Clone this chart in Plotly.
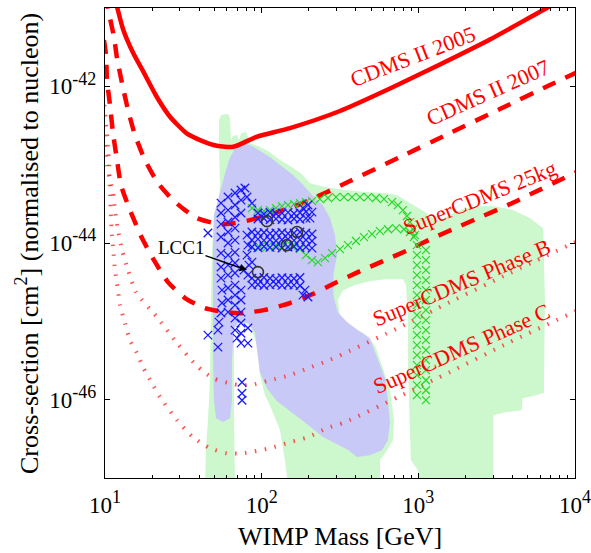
import math
import plotly.graph_objects as go

# ---------------- data (WIMP mass in GeV, cross-section in cm^2) ----------------
cdms2005_mass = [11.5, 13.09, 15.16, 17.56, 21.38, 25.98, 33.22, 40.39, 51.63, 65.9, 92.9,
                 151.6, 316, 659, 1373, 2863, 6618, 9280]
cdms2005_xsec = [1.4e-41, 5.24e-42, 2.64e-42, 1.54e-42, 7.36e-43, 4.09e-43, 2.51e-43, 2.06e-43,
                 1.74e-43, 1.69e-43, 2.27e-43, 2.93e-43, 4.84e-43, 9.37e-43, 1.90e-42, 3.96e-42,
                 1.0e-41, 1.4e-41]

cdms2007_mass = [10.30, 10.45, 11.41, 11.93, 12.84, 14.03, 15.54, 18.00, 21.79, 27.17, 32.40,
                 38.65, 46.79, 55.82, 67.53, 84.19, 121.6, 175.6, 253.5, 366.1, 763.2, 1591,
                 3317, 6917, 10750]
cdms2007_xsec = [1.47e-41, 1.0e-41, 4.26e-42, 2.30e-42, 1.10e-42, 4.98e-43, 2.39e-43, 1.145e-43,
                 5.82e-44, 3.53e-44, 2.63e-44, 2.08e-44, 1.85e-44, 1.74e-44, 1.80e-44, 1.96e-44,
                 2.41e-44, 3.14e-44, 4.34e-44, 6.17e-44, 1.25e-43, 2.53e-43, 5.13e-43, 1.04e-42,
                 1.57e-42]

scdms25_mass = [9.85, 10.15, 10.30, 10.76, 11.25, 11.93, 12.65, 14.44, 17.22, 20.54, 25.23,
                32.40, 43.47, 58.33, 72.68, 103.4, 151.6, 212.5, 285.1, 411.7, 594.4, 858.3,
                1239, 1789, 2584, 3731, 5387, 7779, 11230]
scdms25_xsec = [3.9e-42, 2.51e-42, 1.20e-42, 5.77e-43, 2.53e-43, 1.145e-43, 5.49e-44, 2.63e-44,
                1.155e-44, 6.05e-45, 3.17e-45, 1.98e-45, 1.47e-45, 1.31e-45, 1.27e-45, 1.39e-45,
                1.71e-45, 2.23e-45, 2.99e-45, 4.25e-45, 5.87e-45, 8.12e-45, 1.155e-44, 1.60e-44,
                2.21e-44, 3.05e-44, 4.34e-44, 6.17e-44, 8.79e-44]

phaseB_mass = [9.93, 10.30, 10.76, 11.25, 11.58, 12.10, 12.84, 14.03, 15.77, 21.48, 28.81, 38.65,
               48.90, 65.59, 84.19, 113.0, 151.6, 197.5, 261.1, 340.1, 763.2, 1591, 3842, 10750]
phaseB_xsec = [1.78e-43, 9.88e-44, 6.36e-44, 4.47e-44, 2.63e-44, 1.46e-44, 8.12e-45, 4.51e-45,
               2.36e-45, 1.13e-45, 5.27e-46, 2.68e-46, 1.88e-46, 1.58e-46, 1.53e-46, 1.77e-46,
               2.06e-46, 2.53e-46, 3.10e-46, 3.93e-46, 8.43e-46, 1.76e-45, 4.13e-45, 1.09e-44]

phaseC_mass = [9.9, 10.25, 10.50, 10.65, 10.76, 10.87, 11.03, 11.29, 11.58, 12.10, 12.47, 13.42,
               14.44, 16.00, 17.48, 19.95, 22.44, 28.81, 36.44, 46.79, 60.06, 75.98, 113.0, 151.6,
               197.5, 261.1, 340.1, 763.2, 1591, 3842, 10750]
phaseC_xsec = [5.8e-43, 2.61e-43, 1.45e-43, 8.04e-44, 4.74e-44, 2.63e-44, 1.46e-44, 8.12e-45,
               4.51e-45, 2.50e-45, 1.61e-45, 9.48e-46, 5.75e-46, 3.93e-46, 2.60e-46, 1.62e-46,
               1.08e-46, 5.47e-47, 3.32e-47, 2.40e-47, 2.07e-47, 2.07e-47, 2.40e-47, 2.87e-47,
               3.32e-47, 4.33e-47, 5.16e-47, 1.11e-46, 2.25e-46, 5.43e-46, 1.43e-45]

# light green allowed region outline (mass, xsec)
green_region = [
    (43.5, 8e-48), (44.1, 2.26e-47), (45.4, 5.47e-47), (46.8, 1.77e-46), (47.5, 1.87e-45),
    (48.2, 8.12e-45), (49.6, 2.27e-44), (53.4, 3.53e-44), (54.2, 5.49e-44), (53.4, 1.54e-43),
    (53.4, 3.71e-43), (55.0, 4.30e-43), (61.0, 4.43e-43), (62.8, 3.9e-43), (63.7, 2.06e-43),
    (65.6, 2.33e-43), (69.6, 2.39e-43), (71.6, 2.06e-43), (73.8, 2.5e-43), (79.4, 2.64e-43),
    (81.7, 2.27e-43), (84.2, 1.88e-43), (94.7, 1.73e-43), (109.7, 1.49e-43), (130.9, 1.145e-43),
    (156, 9.3e-44), (180, 7.6e-44), (203, 5.8e-44), (253, 5.2e-44), (340, 4.74e-44),
    (456, 4.47e-44), (612, 4.34e-44), (727, 4.09e-44), (906, 3.16e-44), (1102, 2.48e-44),
    (1310, 1.91e-44), (1591, 2.27e-44), (1903, 2.7e-44), (2338, 2.95e-44), (3091, 2.95e-44),
    (4009, 2.63e-44), (5155, 2.08e-44), (6265, 1.54e-44), (6427, 1.87e-45), (6334, 1.22e-46),
    (5390, 1.11e-46), (4637, 1.04e-46), (4570, 7.34e-47), (3562, 6.9e-47), (3015, 6.34e-47),
    (3015, 8e-48), (1024, 8e-48), (994, 1.26e-47), (897, 1.69e-47), (884, 4.08e-47),
    (871, 9.85e-47), (858, 3.19e-46), (858, 1.036e-45), (834, 2.90e-45), (799, 3.45e-45),
    (612, 3.45e-45), (491, 3.26e-45), (394, 2.90e-45), (331, 2.50e-45), (306, 1.87e-45),
    (316, 1.20e-45), (366, 8.94e-46), (456, 6.86e-46), (528, 4.97e-46), (595, 2.53e-46),
    (659, 1.32e-46), (699, 5.47e-47), (689, 3.04e-47), (621, 2.15e-47), (569, 1.69e-47),
    (569, 8e-48), (147.6, 8e-48), (140.8, 1.69e-47), (130.9, 4.08e-47), (116.4, 7.34e-47),
    (105, 1.14e-46), (97.5, 2.06e-46), (93.4, 4.97e-46), (84.2, 8.94e-46), (72.7, 9.85e-46),
    (66.6, 8.2e-46), (66.6, 5.47e-47), (67.6, 8e-48),
]

# lavender allowed region outline (mass, xsec)
blue_region = [
    (67.5, 1.63e-43), (78.2, 1.88e-43), (86.7, 1.73e-43), (97.5, 1.49e-43), (113, 1.25e-43),
    (130.9, 9.88e-44), (156, 7.6e-44), (184, 5.49e-44), (213, 3.97e-44), (245, 3.05e-44),
    (273, 2.08e-44), (294, 1.26e-44), (303, 7.0e-45), (287, 3.89e-45), (287, 2.16e-45),
    (306, 1.31e-45), (350, 9.8e-46), (412, 7.72e-46), (491, 6.1e-46), (544, 3.5e-46),
    (612, 1.88e-46), (639, 9.85e-47), (659, 5.2e-47), (639, 3.04e-47), (586, 2.26e-47),
    (491, 1.955e-47), (406, 1.85e-47), (355, 2.3e-47), (294, 2.79e-47), (246, 3.33e-47),
    (195, 4.85e-47), (152, 7.1e-47), (125, 9.6e-47), (108, 1.40e-46), (97.5, 2.25e-46),
    (93.4, 4.29e-46), (90.6, 7.25e-46), (81.7, 9.5e-46), (71.6, 9.85e-46), (66.6, 8.2e-46),
    (64.6, 3.19e-46), (64.6, 9.85e-47), (62.8, 5.8e-47), (56.7, 5.2e-47), (51.1, 5.8e-47),
    (49.6, 9.85e-47), (48.9, 4.29e-46), (48.9, 1.866e-45), (48.9, 8.12e-45), (49.6, 2.27e-44),
    (53.4, 4.09e-44), (57.5, 6.9e-44), (61.9, 1.145e-43),
]

# blue model points (x markers)
blue_points = [
    (55.0, 3.23e-44), (55.0, 2.41e-44), (55.0, 1.74e-44), (55.0, 1.19e-44), (55.0, 7.43e-45),
    (55.0, 4.93e-45), (55.0, 3.56e-45), (55.8, 2.50e-45), (55.8, 1.71e-45), (55.0, 1.28e-45),
    (53.4, 9.77e-46), (52.6, 7.72e-46),
    (61.0, 3.86e-44), (61.0, 2.63e-44), (61.0, 1.85e-44), (61.0, 1.38e-44), (61.0, 1.0e-44),
    (61.0, 7.01e-45), (61.0, 5.22e-45), (61.0, 3.89e-45), (61.0, 2.66e-45), (61.0, 1.87e-45),
    (61.0, 1.31e-45),
    (67.6, 4.34e-44), (67.6, 3.05e-44), (67.6, 2.13e-44), (67.6, 1.55e-44), (67.6, 1.089e-44),
    (67.6, 7.6e-45), (67.6, 5.55e-45), (67.6, 4.13e-45), (67.6, 2.90e-45), (67.6, 2.16e-45),
    (67.6, 1.61e-45), (67.6, 1.1e-45), (67.6, 7.72e-46), (69.6, 6.1e-46),
    (73.8, 4.74e-44), (73.8, 3.53e-44), (73.8, 2.41e-44), (73.8, 2.50e-45), (73.8, 1.87e-45),
    (73.8, 1.31e-45), (73.8, 9.5e-46), (73.8, 7.05e-46), (73.8, 5.27e-46),
    (80.6, 3.86e-44), (86.7, 3.23e-44), (78.2, 5.03e-44),
    (81.7, 8.2e-46), (81.7, 5.27e-46),
    (45.4, 1.34e-44), (45.4, 6.66e-46), (52.6, 4.68e-46), (74.9, 1.67e-46), (74.9, 1.21e-46),
    (74.9, 9.85e-47),
    (80.6, 1.26e-44), (81.7, 9.4e-45), (80.6, 7.01e-45), (83.0, 5.22e-45), (81.7, 3.89e-45),
    (86.7, 5.7e-45), (77.1, 4.51e-45),
]
mid_band_mass = [86.7, 94.7, 103.4, 113, 123.4, 134.8, 147.3, 160.8, 175.6, 191.8, 209.5]
mid_band_xsec_top = [1.38e-44, 1.34e-44, 1.36e-44, 1.32e-44, 1.34e-44, 1.36e-44, 1.32e-44,
                     1.34e-44, 1.38e-44, 1.34e-44, 1.30e-44]
mid_band_xsec_mid = [1.09e-44, 1.12e-44, 1.08e-44, 1.10e-44, 1.07e-44, 1.10e-44, 1.12e-44,
                     1.08e-44, 1.10e-44, 1.09e-44, 1.06e-44]
mid_band_xsec_low = [8.9e-45, 8.7e-45, 9.0e-45, 8.8e-45, 8.9e-45, 8.6e-45, 8.9e-45, 9.0e-45,
                     8.7e-45, 8.9e-45, 8.6e-45]
upper_arm_mass = [94.7, 103.4, 113, 123.4, 134.8, 147.3, 160.8, 175.6, 191.8]
upper_arm_xsec_a = [2.41e-44, 2.35e-44, 2.45e-44, 2.38e-44, 2.41e-44, 2.46e-44, 2.38e-44,
                    2.43e-44, 2.50e-44]
upper_arm_xsec_b = [2.02e-44, 2.05e-44, 1.98e-44, 2.03e-44, 2.00e-44, 1.97e-44, 2.04e-44,
                    2.01e-44, 2.06e-44]
upper_arm_end = [(197.5, 3.05e-44), (209.5, 2.48e-44), (183.5, 2.79e-44), (203.4, 2.08e-44)]
lower_arm_mass = [86.7, 94.7, 103.4, 113, 123.4, 134.8, 147.3, 160.8, 175.6]
lower_arm_xsec_a = [3.56e-45, 3.50e-45, 3.62e-45, 3.55e-45, 3.48e-45, 3.60e-45, 3.56e-45,
                    3.52e-45, 3.62e-45]
lower_arm_xsec_b = [2.90e-45, 2.95e-45, 2.86e-45, 2.92e-45, 2.98e-45, 2.88e-45, 2.93e-45,
                    2.90e-45, 2.85e-45]
lower_arm_end = [(189.0, 2.50e-45), (197.5, 2.04e-45), (183.5, 2.16e-45)]

# green model points (x markers)
green_upper_mass = [86.7, 94.7, 103.4, 113, 123.4, 134.8, 147.3, 160.8, 175.6, 191.8, 209.5,
                    235.5, 264.9, 298.0, 335.1, 377.0, 424.0, 476.9, 536.3, 603.4, 678.9,
                    741.2, 797.6, 845.8, 884.1, 923.9, 951.3]
green_upper_xsec = [2.79e-44, 2.63e-44, 2.55e-44, 2.63e-44, 2.79e-44, 2.96e-44, 3.05e-44,
                    3.14e-44, 3.23e-44, 3.33e-44, 3.43e-44, 3.64e-44, 3.75e-44, 3.86e-44,
                    3.86e-44, 3.86e-44, 3.86e-44, 3.86e-44, 3.75e-44, 3.64e-44, 3.33e-44,
                    3.05e-44, 2.63e-44, 2.21e-44, 1.85e-44, 1.50e-44, 1.26e-44]
green_lower_mass = [86.7, 97.5, 109.7, 123.4, 138.7, 156.1, 175.6, 191.8, 209.5, 228.7, 253.5,
                    281.0, 316, 355.4, 399.8, 449.6, 505.7, 568.8, 640, 719.7, 809.4, 884.1,
                    937.6]
green_lower_xsec = [8.86e-45, 8.86e-45, 9.13e-45, 9.40e-45, 9.40e-45, 9.13e-45, 8.36e-45,
                    7.01e-45, 6.05e-45, 5.70e-45, 6.41e-45, 7.43e-45, 8.36e-45, 9.40e-45,
                    1.06e-44, 1.19e-44, 1.30e-44, 1.42e-44, 1.50e-44, 1.55e-44, 1.50e-44,
                    1.38e-44, 1.19e-44]
green_col1_mass = 979.7
green_col1_xsec = [9.40e-45, 7.01e-45, 5.22e-45, 3.89e-45, 2.90e-45, 2.16e-45, 1.61e-45,
                   1.20e-45, 8.94e-46, 6.66e-46, 4.97e-46, 3.70e-46, 2.76e-46, 2.06e-46,
                   1.53e-46, 1.141e-46]
green_col2_mass = 1118
green_col2_xsec = [8.12e-45, 6.05e-45, 4.51e-45, 3.36e-45, 2.50e-45, 1.87e-45, 1.39e-45,
                   1.036e-45, 7.72e-46, 5.75e-46, 4.29e-46, 3.19e-46, 2.38e-46, 1.77e-46,
                   1.32e-46, 9.85e-47]

# benchmark points (open circles)
bench_mass = [108.1, 168.1, 145.0, 94.7]
bench_xsec = [1.90e-44, 1.38e-44, 9.4e-45, 4.25e-45]
lcc1_mass, lcc1_xsec = 80.6, 4.51e-45

# curve labels: (text, mass, xsec, angle)
curve_labels = [
    ("CDMS II 2005", 923.9, 2.37e-42, -21),
    ("CDMS II 2007", 2781, 8.33e-43, -24),
    ("SuperCDMS 25kg", 2473, 3.86e-44, -22),
    ("SuperCDMS Phase B", 1898, 3.17e-45, -23),
    ("SuperCDMS Phase C", 1898, 4.55e-46, -24),
]

SUP = "<sup><span style='font-size:18px'>{}</span></sup>"
x_tick_vals = [10, 100, 1000, 10000]
x_tick_text = ["10" + SUP.format(e) for e in ("1", "2", "3", "4")]
x_minor_vals = [m * 10 ** k for k in (1, 2, 3) for m in range(2, 10)]
y_tick_vals = [1e-46, 1e-44, 1e-42]
y_tick_text = ["10" + SUP.format(e) for e in ("-46", "-44", "-42")]

# ---------------- figure ----------------
FONT = "Liberation Serif"
RED = "#ff0000"
fig = go.Figure()

fig.add_trace(go.Scatter(x=[p[0] for p in green_region], y=[p[1] for p in green_region],
                         mode="lines", fill="toself", fillcolor="#cdf7cd",
                         line=dict(width=0, color="#cdf7cd"), hoverinfo="skip"))
fig.add_trace(go.Scatter(x=[p[0] for p in blue_region], y=[p[1] for p in blue_region],
                         mode="lines", fill="toself", fillcolor="#c9c9f8",
                         line=dict(width=0, color="#c9c9f8"), hoverinfo="skip"))

dotted = dict(color="rgba(255,40,40,0.8)", width=4, dash="1.5px,8.5px", shape="spline",
              smoothing=0.6)
fig.add_trace(go.Scatter(x=phaseB_mass, y=phaseB_xsec, mode="lines", line=dotted))
fig.add_trace(go.Scatter(x=phaseC_mass, y=phaseC_xsec, mode="lines", line=dotted))
dashed = dict(color=RED, width=4.5, dash="14px,11px", shape="spline", smoothing=0.6)
fig.add_trace(go.Scatter(x=cdms2007_mass, y=cdms2007_xsec, mode="lines", line=dashed))
fig.add_trace(go.Scatter(x=scdms25_mass, y=scdms25_xsec, mode="lines", line=dashed))
fig.add_trace(go.Scatter(x=cdms2005_mass, y=cdms2005_xsec, mode="lines",
                         line=dict(color=RED, width=4.5, shape="spline", smoothing=0.6)))

GREEN = "rgb(40,215,40)"
BLUE = "rgb(25,25,255)"
gx = (green_upper_mass + green_lower_mass + [green_col1_mass] * len(green_col1_xsec)
      + [green_col2_mass] * len(green_col2_xsec))
gy = green_upper_xsec + green_lower_xsec + green_col1_xsec + green_col2_xsec
fig.add_trace(go.Scatter(x=gx, y=gy, mode="markers",
                         marker=dict(symbol="x-thin", size=8, color=GREEN,
                                     line=dict(width=1.2, color=GREEN))))

bx = [p[0] for p in blue_points] + mid_band_mass * 3 + upper_arm_mass * 2 \
    + [p[0] for p in upper_arm_end] + lower_arm_mass * 2 + [p[0] for p in lower_arm_end]
by = [p[1] for p in blue_points] + mid_band_xsec_top + mid_band_xsec_mid + mid_band_xsec_low \
    + upper_arm_xsec_a + upper_arm_xsec_b + [p[1] for p in upper_arm_end] \
    + lower_arm_xsec_a + lower_arm_xsec_b + [p[1] for p in lower_arm_end]
fig.add_trace(go.Scatter(x=bx, y=by, mode="markers",
                         marker=dict(symbol="x-thin", size=8.5, color=BLUE,
                                     line=dict(width=1.3, color=BLUE))))

fig.add_trace(go.Scatter(x=bench_mass, y=bench_xsec, mode="markers",
                         marker=dict(symbol="circle-open", size=11, color="#333333",
                                     line=dict(width=1.6, color="#333333"))))

annotations = []
for text, m, s, ang in curve_labels:
    annotations.append(dict(x=math.log10(m), y=math.log10(s), xref="x", yref="y", text=text,
                            showarrow=False, textangle=ang,
                            font=dict(family=FONT, size=22, color=RED)))
annotations.append(dict(x=math.log10(lcc1_mass), y=math.log10(lcc1_xsec), xref="x", yref="y",
                        text="LCC1", showarrow=True, ax=-66, ay=-23, arrowhead=2, arrowsize=1,
                        arrowwidth=1.5, arrowcolor="black", standoff=0,
                        font=dict(family=FONT, size=19, color="black")))
annotations.append(dict(x=0.5, y=-0.125, xref="paper", yref="paper", text="WIMP Mass [GeV]",
                        showarrow=False, yanchor="middle",
                        font=dict(family=FONT, size=26, color="black")))
annotations.append(dict(x=-0.166, y=0.5, xref="paper", yref="paper",
                        text="Cross-section [cm<sup>2</sup>] (normalised to nucleon)",
                        showarrow=False, textangle=-90, xanchor="center", yanchor="middle",
                        font=dict(family=FONT, size=26, color="black")))

axis_common = dict(type="log", showgrid=False, zeroline=False, showline=True, linecolor="black",
                   linewidth=1.2, mirror="allticks", ticks="inside", tickcolor="black",
                   tickwidth=1, automargin=False,
                   tickfont=dict(family=FONT, size=23, color="black"))
fig.update_xaxes(range=[1, 4], tickmode="array", tickvals=x_tick_vals, ticktext=x_tick_text,
                 ticklen=5, ticklabelstandoff=6,
                 minor=dict(ticks="inside", ticklen=2.5, tickcolor="black", tickmode="array",
                            tickvals=x_minor_vals, showgrid=False),
                 **axis_common)
fig.update_yaxes(range=[-47, -41], tickmode="array", tickvals=y_tick_vals, ticktext=y_tick_text,
                 ticklen=5, ticklabelstandoff=3, **axis_common)

fig.update_layout(width=591, height=553, margin=dict(l=105, r=16, t=8, b=75, autoexpand=False),
                  paper_bgcolor="white", plot_bgcolor="white", showlegend=False,
                  annotations=annotations, font=dict(family=FONT, color="black"))

fig.write_html("out.html", config={"displayModeBar": False},
               post_script="document.body.style.margin='0';document.body.style.overflow='hidden';")
